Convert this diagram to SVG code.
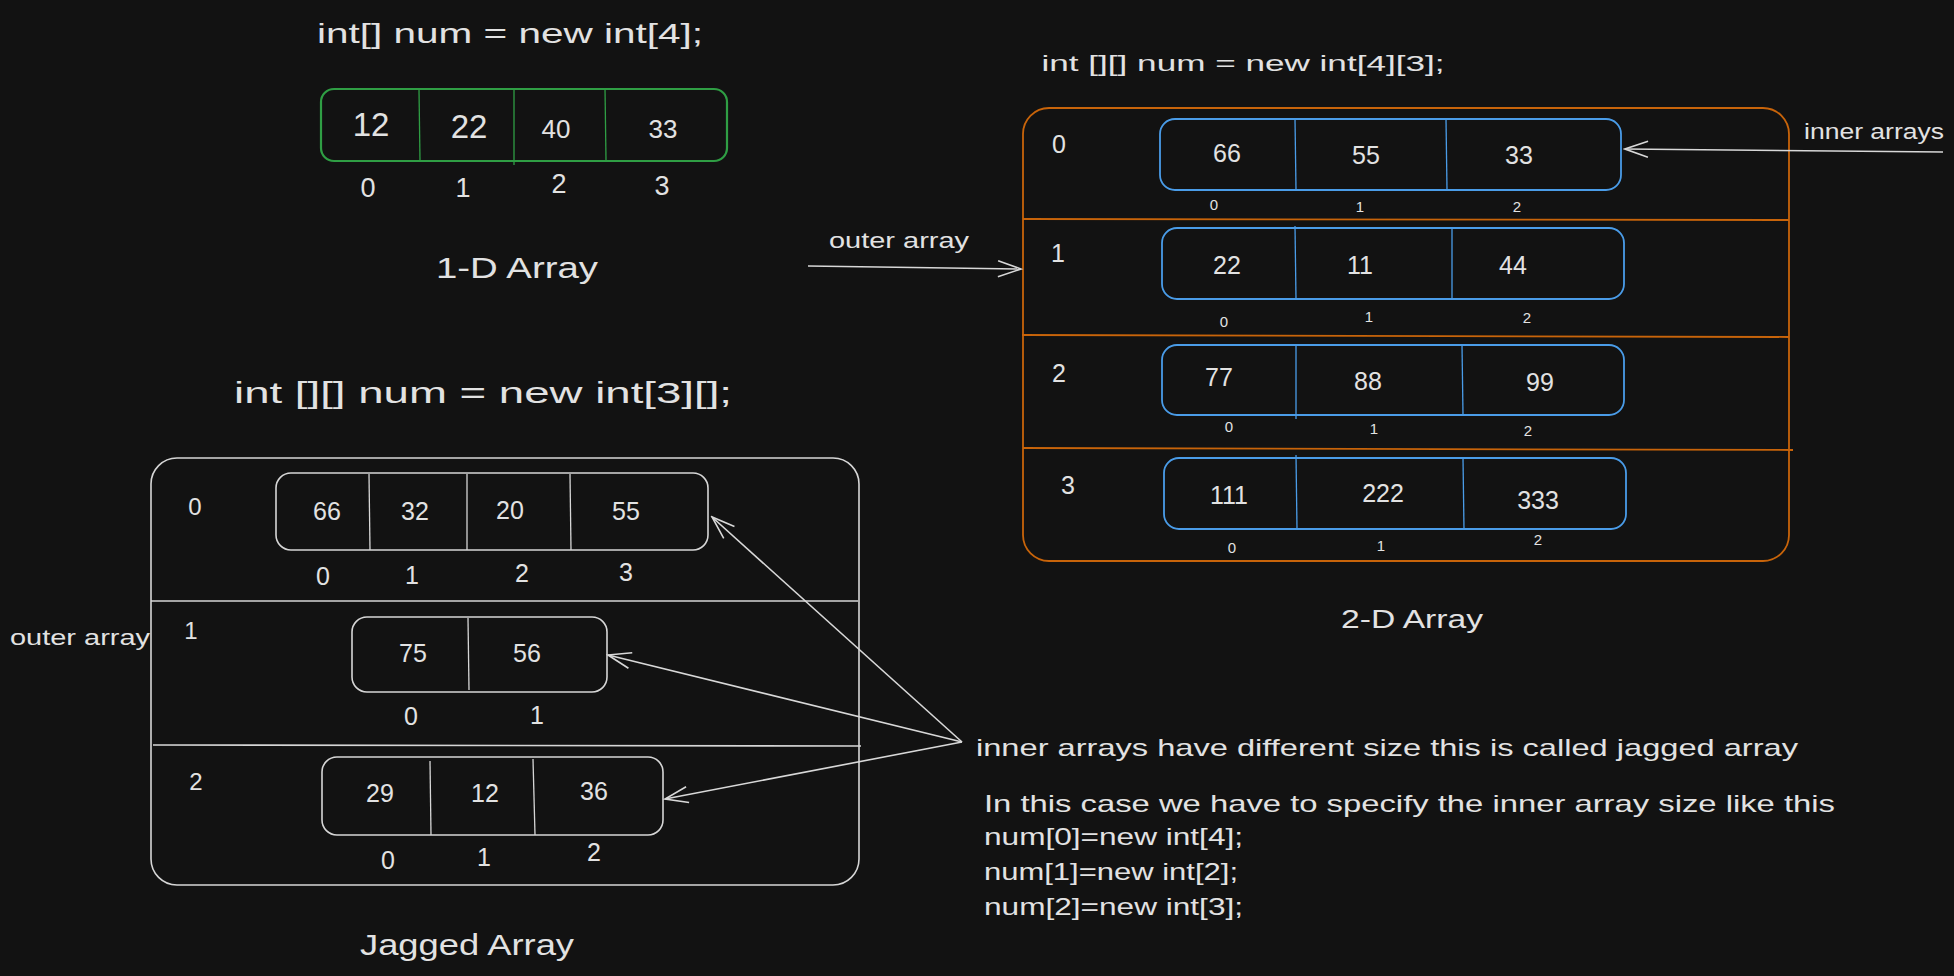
<svg xmlns="http://www.w3.org/2000/svg" width="1954" height="976" viewBox="0 0 1954 976">
<defs>
<style>
text{font-family:"Liberation Sans",Arial,sans-serif;fill:#e2e2e2;text-anchor:middle}
.t{font-size:28px}
.v{font-size:26px}
.i{font-size:24px}
.s{font-size:15px}
.l{font-size:22px}
.st{text-anchor:start}
.g{fill:none;stroke:#2f9e44;stroke-width:2.2}
.gd{stroke:#2f9e44;stroke-width:1.3}
.o{fill:none;stroke:#c8640a;stroke-width:1.8}
.b{fill:none;stroke:#4a9ce8;stroke-width:1.8}
.bd{stroke:#4a9ce8;stroke-width:1.3}
.w{fill:none;stroke:#d6d6d6;stroke-width:1.6}
.wd{stroke:#d6d6d6;stroke-width:1.3}
.a{fill:none;stroke:#d8d8d8;stroke-width:1.6;marker-end:url(#ah)}
</style>
<marker id="ah" markerUnits="userSpaceOnUse" viewBox="-26 -12 28 24" refX="0" refY="0" markerWidth="28" markerHeight="24" orient="auto">
<path d="M-23,-8 L0,0 L-23,8" fill="none" stroke="#d8d8d8" stroke-width="1.6"/>
</marker>
</defs>
<rect width="1954" height="976" fill="#121212"/>

<!-- 1-D array -->
<g id="oned-title"><text class="t" x="510" y="43" textLength="386" lengthAdjust="spacingAndGlyphs">int[] num = new int[4];</text></g>
<g id="oned-array">
<rect class="g" x="321" y="89" width="406" height="72" rx="13"/>
<line class="gd" x1="419" y1="90" x2="420" y2="161"/>
<line class="gd" x1="514" y1="89" x2="514" y2="165"/>
<line class="gd" x1="605" y1="88" x2="606" y2="160"/>
<text class="v" x="371" y="136" style="font-size:33px">12</text>
<text class="v" x="469" y="138" style="font-size:33px">22</text>
<text class="v" x="556" y="138">40</text>
<text class="v" x="663" y="138">33</text>
<text class="i" x="368" y="197" style="font-size:27px">0</text>
<text class="i" x="463" y="197" style="font-size:27px">1</text>
<text class="i" x="559" y="193" style="font-size:27px">2</text>
<text class="i" x="662" y="195" style="font-size:27px">3</text>
</g>
<g id="oned-label"><text class="t" x="517" y="278" textLength="162" lengthAdjust="spacingAndGlyphs" style="font-size:30px">1-D Array</text></g>

<!-- 2-D array -->
<g id="twod-title"><text class="l" x="1243" y="71" textLength="403" lengthAdjust="spacingAndGlyphs">int [][] num = new int[4][3];</text></g>
<g id="twod-outer">
<rect class="o" x="1023" y="108" width="766" height="453" rx="26"/>
<line class="o" x1="1023" y1="219" x2="1789" y2="220"/>
<line class="o" x1="1022" y1="335" x2="1789" y2="337"/>
<line class="o" x1="1023" y1="448" x2="1793" y2="450"/>
<text class="i" x="1059" y="153" style="font-size:25px">0</text>
<text class="i" x="1058" y="262" style="font-size:25px">1</text>
<text class="i" x="1059" y="382" style="font-size:25px">2</text>
<text class="i" x="1068" y="494" style="font-size:25px">3</text>
</g>
<g id="twod-row0">
<rect class="b" x="1160" y="119" width="461" height="71" rx="15"/>
<line class="bd" x1="1295" y1="119" x2="1296" y2="190"/>
<line class="bd" x1="1446" y1="119" x2="1447" y2="190"/>
<text class="i" x="1227" y="162" style="font-size:25px">66</text>
<text class="i" x="1366" y="164" style="font-size:25px">55</text>
<text class="i" x="1519" y="164" style="font-size:25px">33</text>
<text class="s" x="1214" y="210">0</text>
<text class="s" x="1360" y="212">1</text>
<text class="s" x="1517" y="212">2</text>
</g>
<g id="twod-row1">
<rect class="b" x="1162" y="228" width="462" height="71" rx="15"/>
<line class="bd" x1="1295" y1="226" x2="1296" y2="299"/>
<line class="bd" x1="1452" y1="227" x2="1452" y2="299"/>
<text class="i" x="1227" y="274" style="font-size:25px">22</text>
<text class="i" x="1360" y="274" style="font-size:25px">11</text>
<text class="i" x="1513" y="274" style="font-size:25px">44</text>
<text class="s" x="1224" y="327">0</text>
<text class="s" x="1369" y="322">1</text>
<text class="s" x="1527" y="323">2</text>
</g>
<g id="twod-row2">
<rect class="b" x="1162" y="345" width="462" height="70" rx="15"/>
<line class="bd" x1="1296" y1="345" x2="1296" y2="419"/>
<line class="bd" x1="1462" y1="345" x2="1463" y2="415"/>
<text class="i" x="1219" y="386" style="font-size:25px">77</text>
<text class="i" x="1368" y="390" style="font-size:25px">88</text>
<text class="i" x="1540" y="391" style="font-size:25px">99</text>
<text class="s" x="1229" y="432">0</text>
<text class="s" x="1374" y="434">1</text>
<text class="s" x="1528" y="436">2</text>
</g>
<g id="twod-row3">
<rect class="b" x="1164" y="458" width="462" height="71" rx="15"/>
<line class="bd" x1="1296" y1="455" x2="1297" y2="529"/>
<line class="bd" x1="1463" y1="458" x2="1464" y2="530"/>
<text class="i" x="1229" y="504" style="font-size:25px">111</text>
<text class="i" x="1383" y="502" style="font-size:25px">222</text>
<text class="i" x="1538" y="509" style="font-size:25px">333</text>
<text class="s" x="1232" y="553">0</text>
<text class="s" x="1381" y="551">1</text>
<text class="s" x="1538" y="545">2</text>
</g>
<g id="twod-label"><text class="i" x="1412" y="628" textLength="142" lengthAdjust="spacingAndGlyphs" style="font-size:26px">2-D Array</text></g>
<g id="twod-outer-label"><text class="l" x="899" y="248" textLength="140" lengthAdjust="spacingAndGlyphs">outer array</text></g>
<g id="twod-inner-label"><text class="l" x="1874" y="139" textLength="140" lengthAdjust="spacingAndGlyphs">inner arrays</text></g>

<!-- Jagged array -->
<g id="jag-title"><text class="t" x="483" y="403" textLength="498" lengthAdjust="spacingAndGlyphs" style="font-size:30px">int [][] num = new int[3][];</text></g>
<g id="jag-outer">
<rect class="w" x="151" y="458" width="708" height="427" rx="26"/>
<line class="w" x1="151" y1="601" x2="858" y2="601"/>
<line class="w" x1="153" y1="745" x2="861" y2="746"/>
<text class="i" x="195" y="515">0</text>
<text class="i" x="191" y="639">1</text>
<text class="i" x="196" y="790">2</text>
</g>
<g id="jag-row0">
<rect class="w" x="276" y="473" width="432" height="77" rx="15"/>
<line class="wd" x1="369" y1="474" x2="370" y2="550"/>
<line class="wd" x1="467" y1="474" x2="467" y2="550"/>
<line class="wd" x1="570" y1="474" x2="571" y2="550"/>
<text class="i" x="327" y="520" style="font-size:25px">66</text>
<text class="i" x="415" y="520" style="font-size:25px">32</text>
<text class="i" x="510" y="519" style="font-size:25px">20</text>
<text class="i" x="626" y="520" style="font-size:25px">55</text>
<text class="i" x="323" y="585" style="font-size:25px">0</text>
<text class="i" x="412" y="584" style="font-size:25px">1</text>
<text class="i" x="522" y="582" style="font-size:25px">2</text>
<text class="i" x="626" y="581" style="font-size:25px">3</text>
</g>
<g id="jag-row1">
<rect class="w" x="352" y="617" width="255" height="75" rx="15"/>
<line class="wd" x1="468" y1="618" x2="469" y2="690"/>
<text class="i" x="413" y="662" style="font-size:25px">75</text>
<text class="i" x="527" y="662" style="font-size:25px">56</text>
<text class="i" x="411" y="725" style="font-size:25px">0</text>
<text class="i" x="537" y="724" style="font-size:25px">1</text>
</g>
<g id="jag-row2">
<rect class="w" x="322" y="757" width="341" height="78" rx="15"/>
<line class="wd" x1="430" y1="761" x2="431" y2="835"/>
<line class="wd" x1="533" y1="759" x2="535" y2="835"/>
<text class="i" x="380" y="802" style="font-size:25px">29</text>
<text class="i" x="485" y="802" style="font-size:25px">12</text>
<text class="i" x="594" y="800" style="font-size:25px">36</text>
<text class="i" x="388" y="869" style="font-size:25px">0</text>
<text class="i" x="484" y="866" style="font-size:25px">1</text>
<text class="i" x="594" y="861" style="font-size:25px">2</text>
</g>
<g id="jag-outer-label"><text class="l" x="80" y="645" textLength="140" lengthAdjust="spacingAndGlyphs">outer array</text></g>
<g id="jag-label"><text class="t" x="467" y="955" textLength="214" lengthAdjust="spacingAndGlyphs" style="font-size:30px">Jagged Array</text></g>

<g id="notes">
<text class="i st" x="976" y="756" textLength="822" lengthAdjust="spacingAndGlyphs">inner arrays have different size this is called jagged array</text>
<text class="i st" x="984" y="812" textLength="851" lengthAdjust="spacingAndGlyphs">In this case we have to specify the inner array size like this</text>
<text class="i st" x="984" y="845" textLength="259" lengthAdjust="spacingAndGlyphs">num[0]=new int[4];</text>
<text class="i st" x="984" y="880" textLength="254" lengthAdjust="spacingAndGlyphs">num[1]=new int[2];</text>
<text class="i st" x="984" y="915" textLength="259" lengthAdjust="spacingAndGlyphs">num[2]=new int[3];</text>
</g>

<!-- connectors -->
<g id="connectors">
<line class="a" x1="808" y1="266" x2="1021" y2="269"/>
<line class="a" x1="1943" y1="152" x2="1625" y2="149"/>
<line class="a" x1="962" y1="742" x2="712" y2="517"/>
<line class="a" x1="962" y1="742" x2="608" y2="655"/>
<line class="a" x1="962" y1="742" x2="665" y2="799"/>
</g>
</svg>
